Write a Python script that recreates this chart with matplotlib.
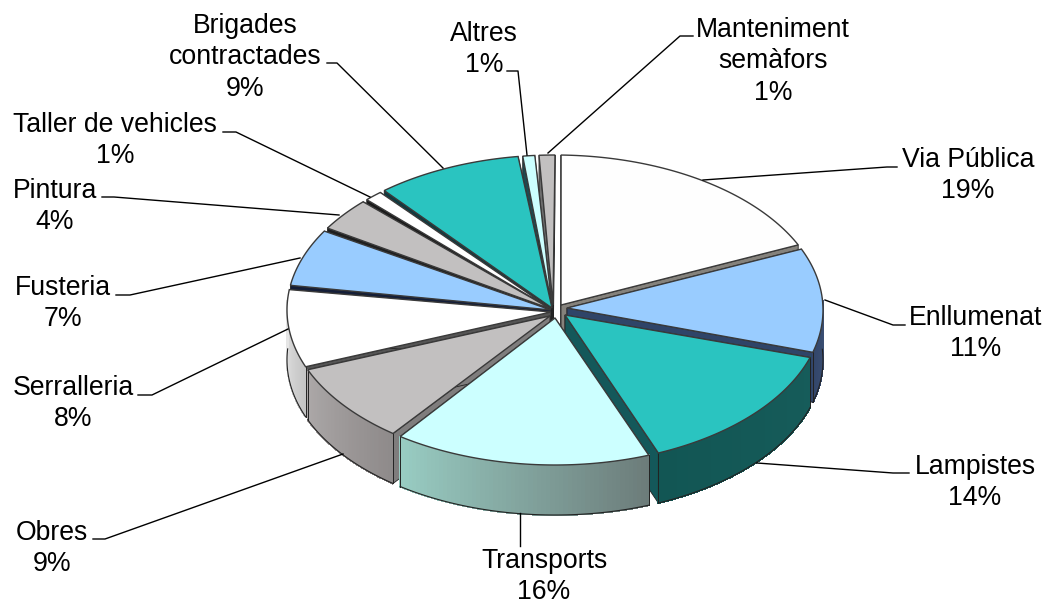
import numpy as np
import matplotlib
matplotlib.use('Agg')
import matplotlib.pyplot as plt
from matplotlib.patches import Polygon
from matplotlib.collections import PolyCollection
from matplotlib.colors import to_rgb

plt.rcParams['font.family'] = ['Liberation Sans', 'DejaVu Sans']

# 数据
names = ['Via Pública', 'Enllumenat', 'Lampistes', 'Transports', 'Obres', 'Serralleria',
         'Fusteria', 'Pintura', 'Taller de vehicles', 'Brigades\ncontractades', 'Altres',
         'Manteniment\nsemàfors']
shares = [18.1, 11.3, 14.3, 16.1, 8.9, 8.4, 6.4, 3.8, 1.4, 9.1, 1.0, 1.2]
percents = [19, 11, 14, 16, 9, 8, 7, 4, 1, 9, 1, 1]

# 样式
top_cols = ['#FEFEFE', '#99CCFF', '#2AC4C0', '#CCFFFF', '#C2C0C0', '#FFFFFF',
            '#99CCFF', '#C2C0C0', '#FFFFFF', '#2AC4C0', '#CCFFFF', '#C2C0C0']
edge_cols = ['#85827C', '#2F4468', '#14585A', '#5E8A88', '#7F7D7D', '#555555',
             '#141E38', '#1E1E1E', '#1A1A1A', '#0E3A40', '#1E4A50', '#6E6E6E']
side_from = ['#E8E8E8', '#4C6488', '#125654', '#98CCC2', '#ABA7A7', '#EAEAEA',
             '#4A6080', '#808080', '#CCCCCC', '#146060', '#80AAAA', '#808080']
side_to = ['#E8E8E8', '#33466A', '#165C5A', '#6C7C7A', '#8E8A8A', '#C4C4C4',
           '#4A6080', '#808080', '#CCCCCC', '#146060', '#80AAAA', '#808080']
gap_before = [1.3, 1.7, 2.0, 2.2, 1.9, 1.2, 1.6, 1.3, 1.1, 1.1, 1.0, 0.9]
tips = [(561, 305), (567, 308), (565, 315), (555, 318), (550, 316), (551, 312),
        (551, 310), (551, 309), (551, 309), (552, 308), (552, 306), (553, 305)]

cx, cy = 555, 310
rx, ry = 268, 155
depth = 50

label_pos = [(968, 158), (976, 316), (975, 465), (544, 559), (52, 531), (73, 386),
             (63, 286), (55, 189), (115, 123), (245, 24), (484, 32), (773, 28)]
leaders = [[(703, 180), (887, 167), (897, 167)],
           [(825, 300), (893, 325), (905, 325)],
           [(757, 463), (893, 473), (909, 473)],
           [(520, 513), (520, 546)],
           [(343, 454), (105, 539), (93, 539)],
           [(288, 329), (152, 395), (138, 395)],
           [(300, 258), (130, 295), (116, 295)],
           [(339, 215), (114, 197), (102, 197)],
           [(370, 197), (236, 132), (223, 132)],
           [(443, 168), (337, 63), (327, 63)],
           [(527, 155), (518, 71), (507, 71)],
           [(548, 153), (680, 36), (693, 36)]]


def rim(a):
    a = np.radians(a)
    return np.column_stack([cx + rx * np.sin(a), cy - ry * np.cos(a)])


fig = plt.figure(figsize=(10.45, 6.03), dpi=100)
ax = fig.add_axes([0, 0, 1, 1])
ax.set_xlim(0, 1045)
ax.set_ylim(603, 0)
ax.axis('off')

ends = np.cumsum(shares) / np.sum(shares) * 360
starts = np.r_[0, ends[:-1]] + np.array(gap_before)
# 从后往前画
order = np.argsort([-np.cos(np.radians((s + e) / 2)) for s, e in zip(starts, ends)])

for i in order:
    angles = np.linspace(starts[i], ends[i], 60)
    arc = rim(angles)
    tip = np.array(tips[i], dtype=float)
    down = np.array([0, depth])

    # 两个径向侧面
    for p in (arc[0], arc[-1]):
        ax.add_patch(Polygon([tip, p, p + down, tip + down], closed=True, fc=edge_cols[i],
                             ec='#222222', lw=0.6, zorder=2))

    # 外侧面，只画朝前的部分，颜色渐变
    front = np.cos(np.radians(angles)) < 0.08
    c0, c1 = np.array(to_rgb(side_from[i])), np.array(to_rgb(side_to[i]))
    quads, cols = [], []
    for k in range(len(arc) - 1):
        if not front[k]:
            continue
        quads.append([arc[k], arc[k + 1], arc[k + 1] + down, arc[k] + down])
        t = k / (len(arc) - 2)
        cols.append(c0 * (1 - t) + c1 * t if arc[0, 0] < arc[-1, 0] else c1 * (1 - t) + c0 * t)
    if quads:
        ax.add_collection(PolyCollection(quads, facecolors=cols, edgecolors=cols, linewidths=0.8,
                                         antialiaseds=False, zorder=2))
        ax.plot(*(arc[front] + down).T, color='#222222', lw=0.8, zorder=2)
        for p in (arc[0], arc[-1]):
            if p[1] > cy + 20:
                ax.plot([p[0], p[0]], [p[1], p[1] + depth], color='#222222', lw=0.7, zorder=2)

    # 顶面
    ax.add_patch(Polygon(np.vstack([tip, arc]), closed=True, fc=top_cols[i],
                         ec='#3A3A3A', lw=1.0, zorder=2))

for name, pct, (x, y), pts in zip(names, percents, label_pos, leaders):
    ax.plot(*np.array(pts).T, color='black', lw=1.0, zorder=3)
    ax.text(x, y - 11, name + '\n' + str(pct) + '%', ha='center', va='top',
            fontsize=19.2, linespacing=1.27, color='black', zorder=4)

fig.savefig('out.png', dpi=100)
